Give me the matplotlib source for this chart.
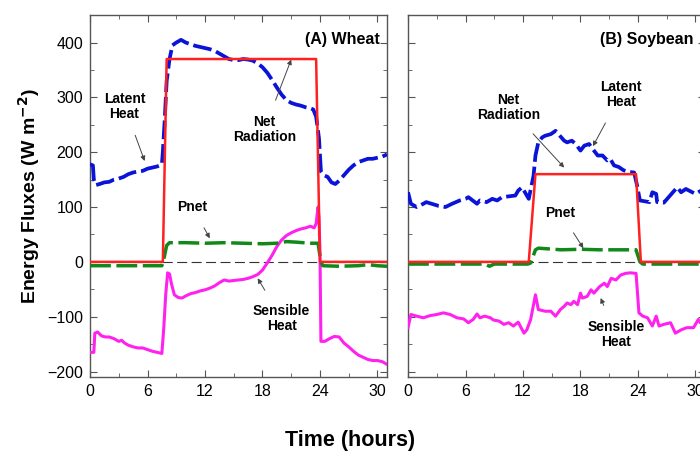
import numpy as np
import matplotlib
matplotlib.use('Agg')
import matplotlib.pyplot as plt
from matplotlib.ticker import MultipleLocator

plt.rcParams['font.family'] = ['Liberation Sans', 'DejaVu Sans']

# ---- (A) Wheat ----
wheat_rn_t = [0, 7.6, 8.0, 23.6, 24.0, 31]
wheat_rn = [0, 0, 370, 370, 0, 0]

wheat_le_t = [0, 0.3, 0.4, 0.6, 1.0, 1.5, 2.0, 2.5, 3.0, 3.5, 4.0, 4.5, 5.0, 5.5, 6.0, 6.5, 7.0,
              7.3, 7.5, 7.6, 7.8, 8.0, 8.3, 8.6, 9.0, 9.5, 10.0, 10.5, 11.0, 11.5, 12.0, 12.5, 13.0,
              13.5, 14.0, 14.5, 15.0, 15.5, 16.0, 16.5, 17.0, 17.5, 18.0, 18.5, 19.0, 19.5, 20.0,
              20.5, 21.0, 21.5, 22.0, 22.5, 23.0, 23.3, 23.6, 23.9, 24.1, 24.4, 24.8, 25.2, 25.6,
              26.0, 26.5, 27.0, 27.5, 28.0, 28.5, 29.0, 29.5, 30.0, 30.5, 31.0]
wheat_le = [178, 176, 150, 140, 142, 145, 146, 150, 152, 155, 160, 163, 165, 166, 170, 172, 174,
            176, 178, 200, 260, 330, 370, 395, 400, 405, 400, 397, 394, 392, 390, 388, 385,
            380, 375, 370, 368, 368, 370, 369, 367, 362, 355, 345, 332, 318, 305,
            295, 290, 287, 285, 282, 280, 278, 265, 225, 165, 158, 155, 145, 142,
            148, 158, 168, 176, 182, 185, 188, 188, 190, 192, 196]

wheat_h_t = [0, 0.4, 0.5, 0.8, 1.2, 1.6, 2.0, 2.5, 3.0, 3.3, 3.6, 4.0, 4.5, 5.0, 5.5, 6.0, 6.5,
             7.0, 7.5, 7.7, 7.9, 8.1, 8.3, 8.5, 8.8, 9.2, 9.6, 10.0, 10.5, 11.0, 11.5, 12.0, 12.5,
             13.0, 13.5, 14.0, 14.5, 15.0, 15.5, 16.0, 16.5, 17.0, 17.5, 18.0, 18.5, 19.0, 19.5,
             20.0, 20.5, 21.0, 21.5, 22.0, 22.5, 23.0, 23.4, 23.6, 23.8, 23.9, 24.0, 24.1, 24.5,
             25.0, 25.5, 26.0, 26.5, 27.0, 27.5, 28.0, 28.5, 29.0, 29.5, 30.0, 30.5, 31.0]
wheat_h = [-165, -165, -130, -128, -135, -137, -137, -140, -145, -143, -148, -152, -155, -157, -157, -160, -163,
           -165, -167, -120, -60, -20, -22, -40, -60, -65, -66, -62, -58, -56, -53, -51, -48,
           -44, -38, -33, -35, -34, -33, -32, -30, -27, -23, -15, -2, 12, 28,
           40, 48, 53, 57, 60, 62, 65, 62, 70, 100, 80, 20, -145, -145,
           -140, -136, -137, -148, -155, -163, -170, -174, -178, -180, -180, -182, -187]

wheat_pn_t = [0, 7.5, 7.7, 8.0, 8.3, 10, 12, 14, 16, 18, 19.5, 20.5, 21.5, 23, 23.8, 24.1, 24.3,
              26, 28, 29, 30, 31]
wheat_pn = [-7, -7, 5, 30, 35, 35, 34, 35, 34, 33, 34, 37, 36, 34, 34, 0, -7,
            -8, -7, -5, -7, -8]

# ---- (B) Soybean ----
soy_rn_t = [0, 12.6, 13.3, 23.8, 24.3, 31]
soy_rn = [0, 0, 160, 160, 0, 0]

soy_le_t = [0, 0.3, 0.9, 1.6, 1.9, 3.2, 3.9, 4.6, 5.4, 6.0, 6.3, 7.2, 7.5, 8.2, 8.8, 9.3, 9.8,
            11.2, 11.5, 11.9, 12.2, 12.6, 13.1, 13.3, 13.6, 14.0, 14.3, 14.9, 15.4, 16.3, 16.6,
            17.1, 17.5, 18.0, 18.4, 18.9, 19.4, 19.8, 20.3, 20.8, 21.1, 21.5, 22.0, 22.5, 23.1,
            23.6, 23.9, 24.2, 25.2, 25.5, 25.9, 26.0, 26.7, 27.8, 28.1, 28.5, 29.0, 30.0, 30.6, 31.0]
soy_le = [127, 106, 100, 106, 109, 102, 100, 106, 112, 115, 118, 106, 112, 109, 115, 112, 118,
          121, 130, 136, 127, 115, 157, 194, 218, 227, 230, 233, 239, 221, 218,
          221, 215, 203, 212, 215, 203, 194, 194, 185, 188, 176, 173, 167, 164,
          163, 140, 112, 109, 127, 124, 109, 108, 130, 136, 127, 133, 124, 130, 126]

soy_h_t = [0, 0.3, 0.9, 1.6, 2.3, 3.0, 3.7, 4.4, 5.1, 5.8, 6.3, 6.8, 7.2, 7.5, 8.0, 8.6, 8.9,
           9.5, 10.0, 10.5, 11.0, 11.5, 12.1, 12.4, 12.8, 13.3, 13.6, 14.3, 14.9, 15.4, 15.9,
           16.3, 16.6, 17.0, 17.3, 17.7, 18.0, 18.2, 18.7, 19.1, 19.4, 20.0, 20.5, 20.8, 21.2,
           21.7, 22.2, 22.7, 23.2, 23.8, 24.1, 24.5, 25.0, 25.5, 25.9, 26.2, 26.7, 27.4, 27.9,
           28.5, 29.1, 29.8, 30.3, 30.5, 31.0]
soy_h = [-120, -96, -99, -102, -98, -96, -93, -96, -102, -104, -111, -105, -95, -102, -99, -102, -106,
         -108, -114, -111, -117, -110, -130, -124, -105, -60, -87, -90, -90, -99, -87,
         -81, -75, -78, -72, -78, -57, -66, -63, -51, -57, -45, -39, -45, -30,
         -33, -24, -21, -20, -21, -93, -99, -102, -117, -99, -117, -114, -111, -130,
         -124, -120, -120, -105, -111, -108]

soy_pn_t = [0, 4, 8, 8.5, 9, 12.5, 12.8, 13.3, 13.6, 16, 18, 20, 23.8, 24.2, 24.5, 28, 31]
soy_pn = [-4, -4, -4, -8, -4, -4, -2, 22, 25, 22, 23, 22, 22, 0, -4, -4, -4]

xticks = [0, 6, 12, 18, 24, 30]
yticks = [-200, -100, 0, 100, 200, 300, 400]

c_rn = '#ff2020'
c_le = '#0a14d8'
c_h = '#ff22ee'
c_pn = '#11881a'


def draw_panel(ax, rn_t, rn, le_t, le, h_t, h, pn_t, pn):
    ax.axhline(0, color='#333333', lw=0.8, dashes=(9, 4), zorder=1)
    ax.plot(h_t, h, color=c_h, lw=2.2, zorder=3)
    ax.plot(le_t, le, color=c_le, lw=2.7, dashes=(5, 1.3), zorder=3)
    ax.plot(pn_t, pn, color=c_pn, lw=2.5, dashes=(6, 1.6), zorder=3)
    ax.plot(rn_t, rn, color=c_rn, lw=1.8, zorder=4)
    ax.set_xlim(0, 31)
    ax.set_ylim(-210, 450)
    ax.set_xticks(xticks)
    ax.set_yticks(yticks)
    ax.xaxis.set_minor_locator(MultipleLocator(3))
    ax.yaxis.set_minor_locator(MultipleLocator(50))
    ax.tick_params(which='both', direction='in', top=True, right=True,
                   colors='#555555', labelcolor='black', labelsize=11.5)
    ax.tick_params(which='major', length=5, pad=5)
    ax.tick_params(which='minor', length=3)
    for s in ax.spines.values():
        s.set_color('#555555')
        s.set_linewidth(1.0)


def note(ax, text, xy, xytext, ha='center'):
    ax.annotate(text, xy=xy, xytext=xytext, ha=ha, va='center', fontsize=10,
                fontweight='bold', linespacing=1.1,
                arrowprops=dict(arrowstyle='-|>', color='#444444', lw=0.7,
                                mutation_scale=7, shrinkA=9, shrinkB=0))


fig = plt.figure(figsize=(7, 4.54), dpi=100)
ax1 = fig.add_axes([0.1286, 0.1696, 0.4243, 0.797])
ax2 = fig.add_axes([0.5829, 0.1696, 0.4243, 0.797])

draw_panel(ax1, wheat_rn_t, wheat_rn, wheat_le_t, wheat_le, wheat_h_t, wheat_h, wheat_pn_t, wheat_pn)
draw_panel(ax2, soy_rn_t, soy_rn, soy_le_t, soy_le, soy_h_t, soy_h, soy_pn_t, soy_pn)
ax2.set_yticklabels([])

ax1.text(30.2, 405, '(A) Wheat', ha='right', va='center', fontsize=11.5, fontweight='bold')
ax2.text(29.8, 405, '(B) Soybean', ha='right', va='center', fontsize=11.5, fontweight='bold')

note(ax1, 'Latent\nHeat', (5.7, 184), (3.6, 284))
note(ax1, 'Net\nRadiation', (21.0, 369), (18.2, 242))
note(ax1, 'Pnet', (12.5, 43), (10.7, 100))
note(ax1, 'Sensible\nHeat', (17.5, -30), (20.0, -103))

note(ax2, 'Net\nRadiation', (16.3, 172), (10.5, 282))
note(ax2, 'Latent\nHeat', (19.3, 211), (22.2, 305))
note(ax2, 'Pnet', (18.3, 25), (15.9, 90))
note(ax2, 'Sensible\nHeat', (20.1, -66), (21.7, -132))

ax1.set_ylabel('Energy Fluxes (W m$^{\\mathbf{-2}}$)', fontsize=14, fontweight='bold', labelpad=4)
fig.text(0.5, 0.03, 'Time (hours)', ha='center', va='center', fontsize=15.5, fontweight='bold')

fig.savefig('out.png', dpi=100)
